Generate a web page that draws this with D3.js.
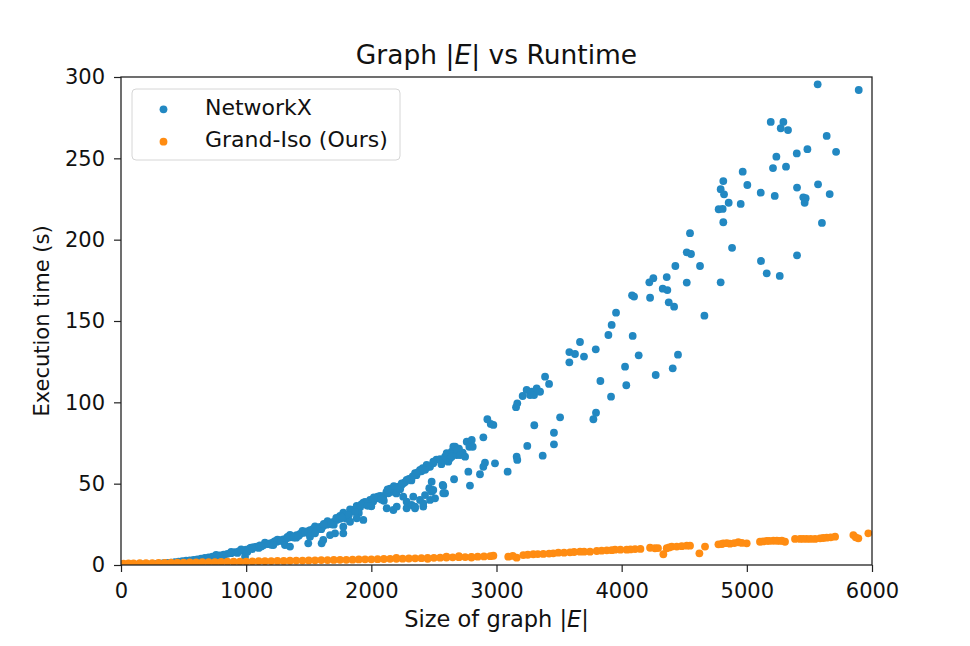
<!DOCTYPE html>
<html>
<head>
<meta charset="utf-8">
<script src="https://cdn.jsdelivr.net/npm/d3@7"></script>
<style>
  html, body { margin: 0; padding: 0; background: #fff; }
  svg { display: block; font-family: "DejaVu Sans", sans-serif; }
</style>
</head>
<body>
<svg id="chart" width="970" height="646"></svg>
<script>
const xTicks = [0, 1000, 2000, 3000, 4000, 5000, 6000];
const yTicks = [0, 50, 100, 150, 200, 250, 300];
const seriesNames = ["NetworkX", "Grand-Iso (Ours)"];

const networkx = [
  [50,0.1],[90,0.1],[130,0.2],[170,0.3],[210,0.4],[250,0.6],[280,0.7],[310,0.9],[340,1.1],[370,1.3],
  [400,1.5],[430,1.8],[460,2.0],[490,2.3],[520,2.6],[550,2.9],[580,3.2],[610,3.5],[640,3.9],[670,4.3],
  [700,4.6],[730,5.1],[760,5.5],[790,5.9],[820,6.4],[850,6.9],[880,7.3],[910,7.9],[940,8.4],[970,8.9],[1000,9.5],
  [600,3.0],[700,4.0],[760,6.2],[820,5.6],[880,8.0],[930,7.4],[960,9.6],[991,5.1],[1010,8.2],[1040,10.6],
  [1031,10.3],[1060,11.0],[1084,11.3],[1110,12.0],[1137,12.1],[1160,13.0],[1190,13.3],[1215,13.9],[1244,14.3],
  [1270,15.2],[1297,15.8],[1325,16.5],[1350,17.0],[1378,17.6],[1403,18.4],[1430,19.1],[1457,19.8],[1485,20.7],
  [1510,21.5],[1535,22.2],[1563,22.5],[1590,23.4],[1616,24.0],[1645,24.8],[1670,25.6],[1697,26.5],[1723,27.7],
  [1750,28.4],[1776,32.2],[1800,31.0],[1830,34.2],[1856,33.0],[1883,36.3],[1910,35.5],[1936,38.3],[1963,37.0],
  [1990,40.0],[2015,39.0],[2043,41.0],[2070,42.5],[2096,42.4],[2120,44.8],[2136,44.1],[2160,45.0],[2176,46.1],
  [2200,47.5],[2216,48.1],[2240,49.0],[2256,50.2],
  [1100,10.5],[1200,12.4],[1300,14.5],[1400,16.8],[1500,19.5],[1600,22.0],[1700,24.8],[1800,28.5],[1900,32.0],
  [2000,36.0],[2100,39.5],[2200,44.0],
  [1150,13.8],[1250,15.6],[1350,18.5],[1450,21.0],[1550,23.8],[1650,27.0],[1750,30.2],[1850,33.8],[1950,38.8],
  [2050,42.0],[2150,47.0],
  [1050,9.8],[1120,11.4],[1180,12.8],[1230,14.6],[1280,14.8],[1330,17.2],[1380,16.9],[1420,18.0],[1470,20.0],
  [1520,20.5],[1570,22.0],[1620,25.2],[1680,25.0],[1720,29.0],[1770,29.2],[1820,30.8],[1870,32.6],[1920,37.3],
  [1970,36.4],[2020,41.5],[2080,40.2],[2130,46.5],[2180,48.5],[2230,46.6],[2270,51.0],[2320,52.0],[2360,55.2],
  [2400,57.6],[2450,60.3],[2520,64.8],[2560,62.0],[2700,71.5],[2730,69.0],
  [1217,12.3],[1310,12.3],[1350,11.3],[1496,13.3],[1510,17.4],[1550,19.5],[1603,13.3],[1616,15.4],[1670,18.4],
  [1710,19.5],[1776,19.5],[1776,23.5],[1830,26.6],[1883,28.7],[1936,27.7],[2123,34.9],[2176,33.8],[2203,35.9],
  [2255,42.0],[2282,34.9],[2282,38.9],[2322,36.9],[2335,42.0],[2349,34.9],[2349,35.9],[2389,40.0],[2415,35.9],
  [2415,37.9],[2429,43.0],[2469,40.0],[2463,47.2],[2482,45.1],[2482,51.2],[2495,46.1],[2509,41.0],[2570,49.2],
  [2575,44.1],[2575,48.6],[2589,44.1],[2661,52.7],[2775,57.4],[2788,48.8],[2868,55.8],[2895,60.4],[2908,62.9],
  [2988,62.5],[3089,57.4],[3161,66.6],[3166,64.6],[3246,73.2],[3369,67.2],[3459,74.2],[3459,81.3],[3302,85.9],
  [3508,90.8],[3774,89.6],[3795,93.6],[3915,103.5],[4037,110.5],[3830,113.1],[4027,121.9],[4136,128.9],
  [4272,116.8],[4408,120.9],[4450,129.3],[4088,140.8],[4661,153.3],
  [2243,50.2],[2282,52.3],[2349,56.4],[2389,58.4],[2442,61.5],[2495,63.5],[2469,60.4],[2495,62.5],[2549,65.0],
  [2575,64.6],[2589,66.6],[2602,68.7],[2615,63.5],[2629,65.6],[2642,69.7],[2642,66.6],[2655,72.7],[2669,72.7],
  [2682,67.6],[2687,70.7],[2709,67.6],[2749,66.6],[2762,75.8],[2783,72.7],[2802,76.9],[2810,72.7],[2895,78.5],
  [2927,89.6],[2954,86.7],[2975,86.1],[3156,97.0],[3166,99.4],[3209,103.9],[3241,107.6],[3268,104.5],
  [3281,106.5],[3300,104.5],[3321,108.6],[3348,106.5],[3388,115.8],[3420,111.3],
  [2300,53.0],[2330,54.5],[2370,57.0],[2410,59.5],[2430,58.5],
  [3582,130.9],[3627,129.7],[3582,124.6],[3667,137.1],[3699,128.1],[3793,132.6],[3894,141.4],[3920,147.6],
  [3955,155.1],[4083,165.8],[4099,165.0],[4221,173.8],[4253,176.3],[4227,164.3],[4328,169.9],[4365,169.0],
  [4360,177.0],[4376,161.5],[4419,158.8],[4429,183.8],[4520,192.2],[4554,191.2],[4520,173.6],[4546,204.0],
  [4626,183.8],
  [4775,218.7],[4807,218.9],[4791,231],[4812,236],[4818,227.9],[4855,222.7],[4791,173.8],[4812,210.7],
  [4882,195],[4951,222],[4967,241.8],[5004,233.6],[5111,228.9],[5113,186.9],[5159,179.3],[5191,272.4],
  [5209,244],[5223,226.9],[5236,251],[5263,177.7],[5271,268.5],[5292,272.4],[5313,244.9],[5329,267.4],
  [5399,253],[5401,232],[5401,190.4],[5451,226],[5470,225.5],[5462,222.7],[5484,255.6],[5566,295.5],
  [5569,234],[5600,210.3],[5638,263.8],[5662,228],[5713,254],[5894,292]
];

const grandIso = [
  [20,0.9],[60,1.0],[100,1.0],[150,1.1],[200,1.1],[250,1.2],[300,1.3],[350,1.3],[400,1.4],[450,1.4],
  [500,1.5],[550,1.6],[600,1.6],[650,1.7],[700,1.8],[750,1.8],[800,1.9],[850,2.0],[900,2.0],[950,2.1],
  [1000,2.1],[1050,2.2],[1100,2.3],[1150,2.3],[1200,2.4],[1250,2.5],[1300,2.5],[1350,2.6],[1400,2.7],[1450,2.7],
  [1500,2.8],[1550,2.9],[1600,3.0],[1650,3.0],[1700,3.1],[1750,3.2],[1800,3.2],[1850,3.3],[1900,3.4],[1950,3.5],
  [2000,3.5],[2050,3.6],[2100,3.7],[2150,3.8],[2200,3.8],[2250,3.9],[2300,4.0],[2350,4.1],[2400,4.2],[2450,4.3],
  [2500,4.4],[2550,4.5],[2600,4.6],[2650,4.7],[2700,4.8],[2750,4.9],[2800,5.0],[2850,5.1],[2900,5.3],[2950,5.4],
  [2200,4.4],[2450,3.8],[2600,5.2],[2800,4.6],[2700,5.4],
  [2975,5.7],[3094,5.1],[3161,4.5],[3214,6.1],[3294,6.6],[3374,6.8],[3454,7.2],[3494,7.6],
  [3587,7.8],[3667,8.2],[3747,8.2],[3801,8.6],[3881,9.0],[3947,9.4],[4040,9.4],[4107,9.8],
  [4227,10.6],[4266,10.3],[4333,6.6],[4360,10.3],[4400,11.3],[4440,11.3],[4520,11.9],[4546,11.9],
  [4621,7.2],[4666,11.3],
  [4773,12.7],[4812,13.3],[4865,13.1],[4932,14.0],[4999,13.3],
  [5105,14.3],[5159,14.8],[5212,14.9],[5265,14.8],[5305,14.3],
  [5385,16.0],[5425,16.0],[5478,16.0],[5545,16.0],[5585,16.4],[5638,16.8],[5705,17.4],
  [5851,18.4],[5891,16.4],[5971,19.5],
  [3130,5.6],[3250,6.3],[3330,6.7],[3420,7.0],[3540,7.6],[3620,8.0],[3700,8.2],[3840,8.8],[3920,9.1],
  [3990,9.4],[4070,9.6],[4150,9.9],[4290,10.4],[4380,10.8],[4480,11.6],[4800,12.9],[4840,13.4],[4900,13.5],
  [4960,13.6],[5130,14.5],[5180,14.8],[5240,14.9],[5280,15.0],[5450,16.1],[5510,16.0],[5610,16.6],[5670,17.0],
  [5870,17.0]
];

const colors = ["#2288c2", "#ff8c12"];

(function draw() {
  const svg = d3.select("#chart");
  const mL = 121, mR = 872, mT = 77, mB = 565;
  const x = d3.scaleLinear().domain([0, 6000]).range([mL, mR]);
  const y = d3.scaleLinear().domain([0, 300]).range([mB, mT]);

  svg.append("defs").append("clipPath").attr("id", "clip")
    .append("rect").attr("x", mL).attr("y", mT).attr("width", mR - mL).attr("height", mB - mT);

  const plot = svg.append("g").attr("clip-path", "url(#clip)");
  [networkx, grandIso].forEach((data, i) => {
    plot.append("g").selectAll("circle").data(data).join("circle")
      .attr("cx", d => x(d[0])).attr("cy", d => y(d[1])).attr("r", 3.9)
      .attr("fill", colors[i]);
  });

  const xAxis = svg.append("g").attr("transform", `translate(0,${mB})`)
    .call(d3.axisBottom(x).tickValues(xTicks).tickFormat(d3.format("d")).tickSize(7).tickPadding(11));
  const yAxis = svg.append("g").attr("transform", `translate(${mL},0)`)
    .call(d3.axisLeft(y).tickValues(yTicks).tickFormat(d3.format("d")).tickSize(7).tickPadding(9));
  [xAxis, yAxis].forEach(a => {
    a.select(".domain").remove();
    a.selectAll("text").attr("font-size", 21).attr("fill", "#111").attr("font-family", "DejaVu Sans");
    a.selectAll("line").attr("stroke", "#222").attr("stroke-width", 1.2);
  });

  svg.append("rect").attr("x", mL).attr("y", mT).attr("width", mR - mL).attr("height", mB - mT)
    .attr("fill", "none").attr("stroke", "#222").attr("stroke-width", 1.3);

  const title = svg.append("text").attr("x", (mL + mR) / 2).attr("y", 64)
    .attr("text-anchor", "middle").attr("font-size", 26.5).attr("fill", "#111");
  title.append("tspan").text("Graph |");
  title.append("tspan").attr("font-style", "italic").text("E");
  title.append("tspan").text("| vs Runtime");

  const xl = svg.append("text").attr("x", (mL + mR) / 2).attr("y", 627)
    .attr("text-anchor", "middle").attr("font-size", 22.5).attr("fill", "#111");
  xl.append("tspan").text("Size of graph |");
  xl.append("tspan").attr("font-style", "italic").text("E");
  xl.append("tspan").text("|");

  svg.append("text").attr("transform", `translate(49,${(mT + mB) / 2}) rotate(-90)`)
    .attr("text-anchor", "middle").attr("font-size", 21).attr("fill", "#111")
    .text("Execution time (s)");

  const lg = svg.append("g");
  lg.append("rect").attr("x", 132).attr("y", 89).attr("width", 268).attr("height", 71)
    .attr("rx", 4).attr("fill", "#fff").attr("fill-opacity", 0.85)
    .attr("stroke", "#d6d6d6").attr("stroke-width", 1);
  seriesNames.forEach((name, i) => {
    const cy = 109.3 + i * 32.4;
    lg.append("circle").attr("cx", 163.5).attr("cy", cy).attr("r", 3.9).attr("fill", colors[i]);
    lg.append("text").attr("x", 205).attr("y", cy + 5.5).attr("font-size", 22).attr("fill", "#111").text(name);
  });
})();
</script>
</body>
</html>
